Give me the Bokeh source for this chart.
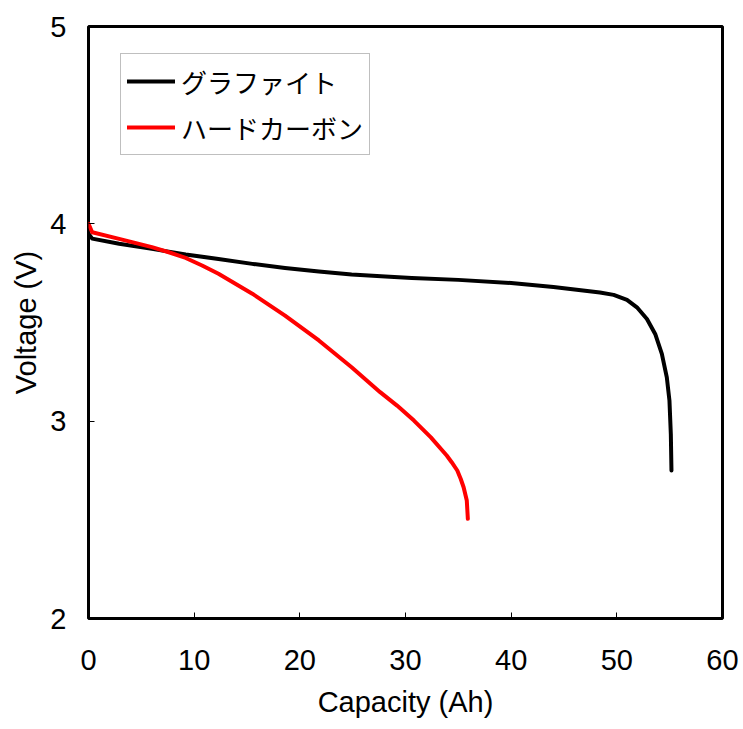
from bokeh.plotting import figure
from bokeh.models import Legend, LegendItem, FixedTicker, Range1d, Title
from bokeh.embed import file_html
from bokeh.resources import INLINE

# Data
cap_graphite = [0, 0.35, 2.9, 6.0, 9.2, 12.3, 15.5, 18.6, 21.8, 24.9, 28.1, 30.6,
                35, 40, 44, 48.4, 49.7, 50.96, 51.9, 52.85, 53.63, 54.26, 54.73,
                54.98, 55.11, 55.17]
v_graphite = [3.95, 3.925, 3.899, 3.873, 3.845, 3.822, 3.797, 3.776, 3.758, 3.743,
              3.733, 3.726, 3.716, 3.70, 3.68, 3.652, 3.640, 3.615, 3.577, 3.518,
              3.442, 3.341, 3.222, 3.104, 2.935, 2.75]

cap_hard = [0, 0.35, 2.9, 6.0, 7.6, 9.2, 10.75, 12.3, 15.5, 18.6, 21.8, 24.9, 27.6,
            29.2, 30.8, 32.4, 33.9, 34.37, 34.9, 35.23, 35.5, 35.8, 35.9]
v_hard = [4.00, 3.957, 3.924, 3.882, 3.856, 3.827, 3.789, 3.747, 3.646, 3.535, 3.409,
          3.273, 3.147, 3.079, 3.003, 2.918, 2.826, 2.792, 2.750, 2.707, 2.665,
          2.598, 2.505]

x_ticks = [0, 10, 20, 30, 40, 50, 60]
y_ticks = [2, 3, 4, 5]
series_names = ["グラファイト", "ハードカーボン"]
x_title = "Capacity (Ah)"
y_title = "Voltage (V)"

FONT = "Liberation Sans"

p = figure(width=740, height=729, output_backend="svg", toolbar_location=None,
           x_range=Range1d(0, 60), y_range=Range1d(2, 5),
           min_border_left=88, min_border_right=18, min_border_top=26,
           min_border_bottom=111)
p.grid.visible = False
p.background_fill_color = "white"
p.border_fill_color = "white"
p.outline_line_color = "black"
p.outline_line_width = 3

r1 = p.line(cap_graphite, v_graphite, line_color="black", line_width=4,
            line_cap="round", line_join="round")
r2 = p.line(cap_hard, v_hard, line_color="#ff0000", line_width=4,
            line_cap="round", line_join="round")

for ax in (p.xaxis[0], p.yaxis[0]):
    ax.axis_line_color = None
    ax.major_tick_in = 6
    ax.major_tick_out = 0
    ax.minor_tick_line_color = None
    ax.major_tick_line_color = "black"
    ax.major_tick_line_width = 1
    ax.major_label_text_font = FONT
    ax.major_label_text_font_size = "29px"
    ax.major_label_text_color = "black"

p.xaxis[0].ticker = FixedTicker(ticks=x_ticks)
p.yaxis[0].ticker = FixedTicker(ticks=y_ticks)
p.xaxis[0].major_label_standoff = 31
p.yaxis[0].major_label_standoff = 22

# axis titles as side-panel titles
p.add_layout(Title(text=x_title, align="center", text_font=FONT,
                   text_font_size="29px", text_font_style="normal",
                   text_color="black", standoff=22), "below")
p.add_layout(Title(text=y_title, align="center", offset=13, text_font=FONT,
                   text_font_size="29px", text_font_style="normal",
                   text_color="black", standoff=12), "left")

legend = Legend(items=[LegendItem(label=series_names[0], renderers=[r1]),
                       LegendItem(label=series_names[1], renderers=[r2])],
                location=(32, 463))
legend.label_text_font = "Noto Sans CJK JP"
legend.label_text_font_size = "26px"
legend.label_text_color = "black"
legend.glyph_width = 48
legend.glyph_height = 42
legend.label_height = 42
legend.label_standoff = 6
legend.spacing = 4
legend.padding = 6
legend.margin = 0
legend.border_line_color = "#808080"
legend.border_line_width = 1
legend.background_fill_color = "white"
legend.background_fill_alpha = 1
p.add_layout(legend)

open("out.html", "w").write(file_html(p, INLINE))
